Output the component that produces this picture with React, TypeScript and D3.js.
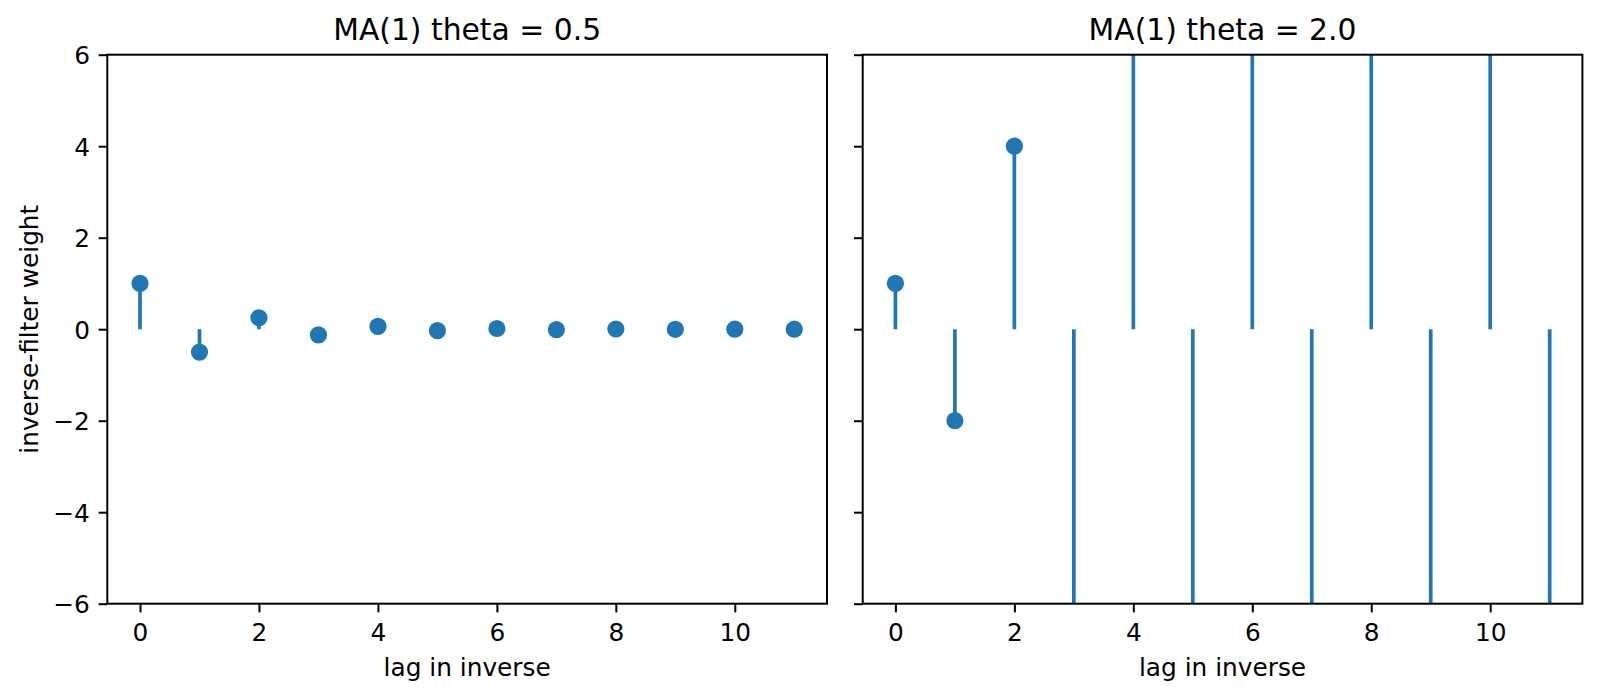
import React, { useRef, useEffect } from "react";
import * as d3 from "d3";

// lag index of the inverse filter
const lags = [0, 1, 2, 3, 4, 5, 6, 7, 8, 9, 10, 11];

// inverse-filter weights
const weightsTheta05 = [
  1, -0.5, 0.25, -0.125, 0.0625, -0.03125, 0.015625, -0.0078125, 0.00390625,
  -0.001953125, 0.0009765625, -0.00048828125,
];
const weightsTheta20 = [1, -2, 4, -8, 16, -32, 64, -128, 256, -512, 1024, -2048];

const titles = ["MA(1) theta = 0.5", "MA(1) theta = 2.0"];
const xTicks = [0, 2, 4, 6, 8, 10];
const yTicks = [-6, -4, -2, 0, 2, 4, 6];

const W = 1600;
const H = 700;
const FONT = "'DejaVu Sans', sans-serif";
const BLUE = "#1f77b4";

export default function App() {
  const ref = useRef<SVGSVGElement | null>(null);

  useEffect(() => {
    if (!ref.current) return;
    const svg = d3.select(ref.current);
    svg.selectAll("*").remove();

    const top = 54.7;
    const bottom = 603.7;
    const axW = 719.7;
    const lefts = [107.3, 862.7];
    const series = [weightsTheta05, weightsTheta20];
    const tickLen = 8.7;
    const pad = 8.7;

    const y = d3.scaleLinear().domain([-6, 6]).range([bottom, top]);

    series.forEach((vals, i) => {
      const left = lefts[i];
      const x = d3
        .scaleLinear()
        .domain([-0.55, 11.55])
        .range([left, left + axW]);

      const clipId = `clip-${i}`;
      svg
        .append("clipPath")
        .attr("id", clipId)
        .append("rect")
        .attr("x", left)
        .attr("y", top)
        .attr("width", axW)
        .attr("height", bottom - top);

      const plot = svg.append("g").attr("clip-path", `url(#${clipId})`);

      // stems
      plot
        .selectAll("line.stem")
        .data(lags)
        .join("line")
        .attr("class", "stem")
        .attr("x1", (d) => x(d))
        .attr("x2", (d) => x(d))
        .attr("y1", y(0))
        .attr("y2", (d, k) => y(vals[k]))
        .attr("stroke", BLUE)
        .attr("stroke-width", 3.7);

      // markers
      plot
        .selectAll("circle")
        .data(lags)
        .join("circle")
        .attr("cx", (d) => x(d))
        .attr("cy", (d, k) => y(vals[k]))
        .attr("r", 8.6)
        .attr("fill", BLUE);

      // x axis
      const xa = svg
        .append("g")
        .attr("transform", `translate(0,${bottom})`)
        .call(
          d3
            .axisBottom(x)
            .tickValues(xTicks)
            .tickSize(tickLen)
            .tickSizeOuter(0)
            .tickPadding(pad)
            .tickFormat(d3.format("d"))
        );
      xa.select(".domain").remove();
      xa.selectAll("line").attr("stroke", "#000").attr("stroke-width", 2);
      xa.selectAll("text")
        .attr("fill", "#000")
        .attr("dy", "0.8em")
        .style("font-family", FONT)
        .style("font-size", "24.8px");

      // y axis
      const ya = svg
        .append("g")
        .attr("transform", `translate(${left},0)`)
        .call(
          d3
            .axisLeft(y)
            .tickValues(yTicks)
            .tickSize(tickLen)
            .tickSizeOuter(0)
            .tickPadding(pad)
            .tickFormat(i === 0 ? d3.format("d") : () => "")
        );
      ya.select(".domain").remove();
      ya.selectAll("line").attr("stroke", "#000").attr("stroke-width", 2);
      ya.selectAll("text")
        .attr("fill", "#000")
        .attr("dy", "0.36em")
        .style("font-family", FONT)
        .style("font-size", "24.8px");

      // spines
      svg
        .append("rect")
        .attr("x", left)
        .attr("y", top)
        .attr("width", axW)
        .attr("height", bottom - top)
        .attr("fill", "none")
        .attr("stroke", "#000")
        .attr("stroke-width", 2);

      // title
      svg
        .append("text")
        .attr("x", left + axW / 2)
        .attr("y", 40)
        .attr("text-anchor", "middle")
        .style("font-family", FONT)
        .style("font-size", "29.8px")
        .text(titles[i]);

      // x label
      svg
        .append("text")
        .attr("x", left + axW / 2)
        .attr("y", 676)
        .attr("text-anchor", "middle")
        .style("font-family", FONT)
        .style("font-size", "24.8px")
        .text("lag in inverse");
    });

    // y label
    svg
      .append("text")
      .attr("transform", `translate(37.5,${(top + bottom) / 2}) rotate(-90)`)
      .attr("text-anchor", "middle")
      .style("font-family", FONT)
      .style("font-size", "24.8px")
      .text("inverse-filter weight");
  }, []);

  return (
    <svg
      ref={ref}
      width={W}
      height={H}
      style={{ position: "absolute", left: 0, top: 0, background: "#fff" }}
    />
  );
}
